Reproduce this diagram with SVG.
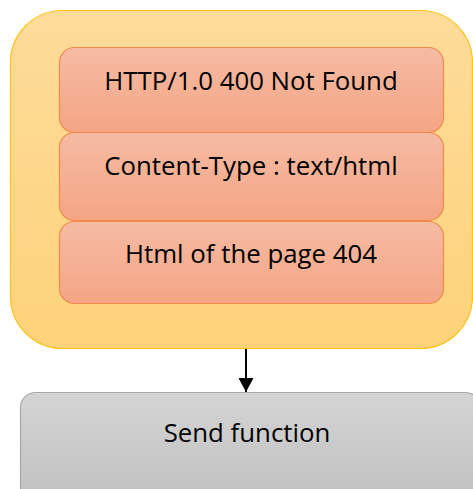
<svg xmlns="http://www.w3.org/2000/svg" width="473" height="489" viewBox="0 0 473 489">
<defs>
<linearGradient id="gOuter" x1="0" y1="0" x2="0" y2="1"><stop offset="0" stop-color="#fddc9a"/><stop offset="1" stop-color="#fdd27a"/></linearGradient>
<linearGradient id="gInner" x1="0" y1="0" x2="0" y2="1"><stop offset="0" stop-color="#f6bba4"/><stop offset="1" stop-color="#f4a584"/></linearGradient>
<linearGradient id="gGray" x1="0" y1="0" x2="0" y2="1"><stop offset="0" stop-color="#d4d4d4"/><stop offset="1" stop-color="#c0c0c0"/></linearGradient>
<marker id="arr" markerWidth="15" markerHeight="15" refX="14" refY="7.5" orient="auto" markerUnits="userSpaceOnUse" viewBox="0 0 15 15"><path d="M0,0 L14,7.5 L0,15 z" fill="#000"/></marker>
</defs>
<style>
.outer{fill:url(#gOuter);stroke:#fcc21a;stroke-width:1.2}
.inner{fill:url(#gInner);stroke:#ef8a4a;stroke-width:1.2}
.gray{fill:url(#gGray);stroke:#a8a8a8;stroke-width:1.2}
text{font-family:"Open Sans","Liberation Sans",sans-serif;font-size:25.8px;fill:#000;text-anchor:middle}
</style>
<g id="container"><rect class="outer" x="10.5" y="10.5" width="462" height="338" rx="52"/></g>
<g id="status"><rect class="inner" x="59.5" y="47.5" width="384" height="85" rx="15"/><text x="251" y="90">HTTP/1.0 400 Not Found</text></g>
<g id="contenttype"><rect class="inner" x="59.5" y="132.5" width="384" height="88" rx="15"/><text x="251" y="175">Content-Type : text/html</text></g>
<g id="html"><rect class="inner" x="59.5" y="221.5" width="384" height="82" rx="15"/><text x="251" y="263">Html of the page 404</text></g>
<g id="send"><rect class="gray" x="20.5" y="392.5" width="460" height="110" rx="15"/><text x="247" y="442">Send function</text></g>
<g id="connectors"><line x1="246" y1="349" x2="246" y2="392" stroke="#000" stroke-width="2" marker-end="url(#arr)"/></g>
</svg>
